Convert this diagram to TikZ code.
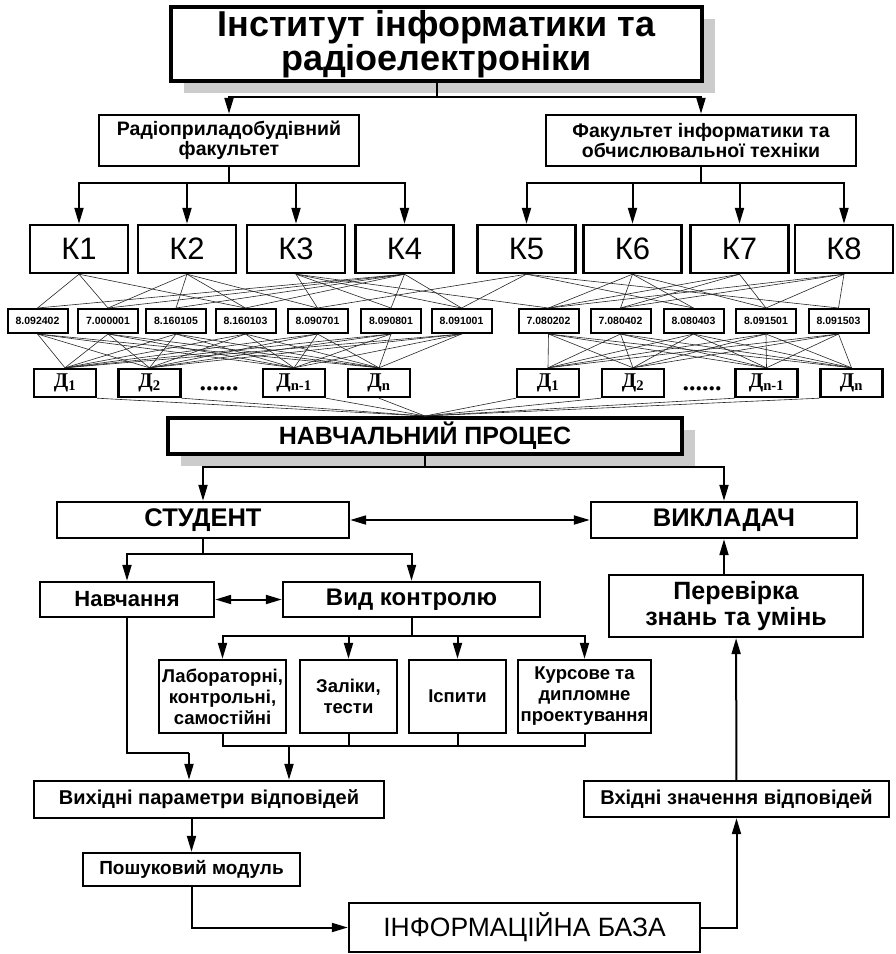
\documentclass[tikz,border=0pt]{standalone}
\usepackage{fontspec}
\setmainfont{Liberation Sans}
\newfontfamily\dfont{Liberation Serif}
\usetikzlibrary{arrows.meta,shadows}

\tikzset{
  box/.style={draw, line width=2.4pt, fill=white, inner sep=0pt, align=center,
    font=\bfseries\fontsize{20}{22}\selectfont},
  bigbox/.style={box, line width=4pt,
    drop shadow={shadow xshift=13pt, shadow yshift=-12pt, fill=black!20, opacity=1}},
  kbox/.style={box, minimum width=98pt, minimum height=48pt,
    font=\fontsize{31}{31}\selectfont},
  codebox/.style={box, line width=2pt, minimum width=60pt, minimum height=24pt,
    font=\bfseries\fontsize{10.5}{11}\selectfont},
  dbox/.style={box, minimum width=62pt, minimum height=28pt,
    font=\dfont\bfseries\fontsize{21}{21}\selectfont},
  dots/.style={font=\dfont\bfseries\fontsize{26}{26}\selectfont},
  ctrlbox/.style={box, minimum height=73pt,
    font=\bfseries\fontsize{18.5}{21}\selectfont},
  wire/.style={line width=2pt},
  arr/.style={line width=2pt, -{Triangle[length=16pt,width=9pt]}},
  dblarr/.style={line width=2pt, {Triangle[length=16pt,width=9pt]}-{Triangle[length=16pt,width=9pt]}},
  link/.style={line width=0.6pt, black!85}
}

\begin{document}
\begin{tikzpicture}[x=1pt,y=-1pt]
  \useasboundingbox (0,0) rectangle (896,954);

  % institute and faculties
  \draw
    (436.5,44) node[bigbox, minimum width=531pt, minimum height=74pt,
      font=\bfseries\fontsize{36}{31}\selectfont] (inst)
      {Інститут інформатики та\\радіоелектроніки}
    (229,140.5) node[box, minimum width=260pt, minimum height=51pt,
      font=\bfseries\fontsize{19.5}{20}\selectfont] (rad)
      {Радіоприладобудівний\\факультет}
    (701,140.5) node[box, minimum width=310pt, minimum height=51pt,
      font=\bfseries\fontsize{19.5}{20}\selectfont] (fac)
      {Факультет інформатики та\\обчислювальної техніки};

  % departments
  \draw
    (79,249) node[kbox] (k1) {К1}
    (187,249) node[kbox] (k2) {К2}
    (296,249) node[kbox] (k3) {К3}
    (404.5,249) node[kbox] (k4) {К4}
    (526.5,249) node[kbox] (k5) {К5}
    (632.5,249) node[kbox] (k6) {К6}
    (739.5,249) node[kbox] (k7) {К7}
    (844,249) node[kbox] (k8) {К8};

  % specialities
  \draw
    (37.5,321) node[codebox] (c1) {8.092402}
    (108,321) node[codebox] (c2) {7.000001}
    (176,321) node[codebox] (c3) {8.160105}
    (245.5,321) node[codebox] (c4) {8.160103}
    (317.5,321) node[codebox] (c5) {8.090701}
    (391,321) node[codebox] (c6) {8.090801}
    (461.5,321) node[codebox] (c7) {8.091001}
    (548.5,321) node[codebox] (r1) {7.080202}
    (620.5,321) node[codebox] (r2) {7.080402}
    (693.5,321) node[codebox] (r3) {8.080403}
    (766,321) node[codebox] (r4) {8.091501}
    (838.5,321) node[codebox] (r5) {8.091503};

  % disciplines
  \draw
    (65,383) node[dbox] (dl1) {Д\textsubscript{1}}
    (149.5,383) node[dbox] (dl2) {Д\textsubscript{2}}
    (219,389) node[dots] (dotl) {......}
    (294,383) node[dbox] (dl3) {Д\textsubscript{n-1}}
    (379,383) node[dbox] (dl4) {Д\textsubscript{n}}
    (548,383) node[dbox] (dr1) {Д\textsubscript{1}}
    (633,383) node[dbox] (dr2) {Д\textsubscript{2}}
    (702,389) node[dots] (dotr) {......}
    (766.5,383) node[dbox] (dr3) {Д\textsubscript{n-1}}
    (851.5,383) node[dbox] (dr4) {Д\textsubscript{n}};

  % teaching process and below
  \draw
    (425,436) node[bigbox, minimum width=514pt, minimum height=36pt,
      font=\bfseries\fontsize{25}{25}\selectfont] (proc) {НАВЧАЛЬНИЙ ПРОЦЕС}
    (203,520) node[box, minimum width=292pt, minimum height=36pt,
      font=\bfseries\fontsize{25.5}{25}\selectfont] (stud) {СТУДЕНТ}
    (724,520) node[box, minimum width=266pt, minimum height=36pt,
      font=\bfseries\fontsize{25.5}{25}\selectfont] (vykl) {ВИКЛАДАЧ}
    (127,599.5) node[box, minimum width=174pt, minimum height=35pt,
      font=\bfseries\fontsize{22}{22}\selectfont] (navch) {Навчання}
    (411.5,599.5) node[box, minimum width=257pt, minimum height=35pt,
      font=\bfseries\fontsize{24}{24}\selectfont] (vyd) {Вид контролю}
    (736,606) node[box, minimum width=254pt, minimum height=62pt,
      font=\bfseries\fontsize{25}{26}\selectfont] (perev) {Перевірка\\знань та умінь}
    (222.5,696.5) node[ctrlbox, minimum width=127pt] (lab) {Лабораторні,\\контрольні,\\самостійні}
    (348.5,696.5) node[ctrlbox, minimum width=97pt] (zal) {Заліки,\\тести}
    (457.5,696.5) node[ctrlbox, minimum width=97pt] (isp) {Іспити}
    (584.5,696.5) node[ctrlbox, minimum width=133pt] (kurs) {Курсове та\\дипломне\\проектування}
    (209,799.5) node[box, minimum width=350pt, minimum height=37pt] (vykh) {Вихідні параметри відповідей}
    (736.5,799) node[box, minimum width=305pt, minimum height=36pt] (vkh) {Вхідні значення відповідей}
    (191.5,869.5) node[box, minimum width=217pt, minimum height=33pt,
      font=\bfseries\fontsize{19}{19}\selectfont] (posh) {Пошуковий модуль}
    (524.5,927.5) node[box, minimum width=351pt, minimum height=49pt,
      font=\fontsize{26.5}{26}\selectfont] (baza) {ІНФОРМАЦІЙНА БАЗА};

  % junctions
  \coordinate (tj) at (436.5,97);
  \coordinate (rj) at (229,183);
  \coordinate (fj) at (701,183);
  \coordinate (pj) at (425,467);
  \coordinate (sj) at (203,554);
  \coordinate (vj) at (411.5,636);
  \coordinate (bus) at (289,746);
  \coordinate (nj) at (189,753);

  \draw[wire] (inst) -- (tj);
  \draw[arr] (tj) -| (rad);
  \draw[arr] (tj) -| (fac);
  \draw[wire] (rad) -- (rj);
  \draw[wire] (fac) -- (fj);
  \draw[arr] (rj) -| (k1);
  \draw[arr] (rj) -| (k2);
  \draw[arr] (rj) -| (k3);
  \draw[arr] (rj) -| (k4);
  \draw[arr] (fj) -| (k5);
  \draw[arr] (fj) -| (k6);
  \draw[arr] (fj) -| (k7);
  \draw[arr] (fj) -| (k8);

  % departments to specialities
  \begin{scope}[link]
    \draw (k1.south) to (c1.north);
    \draw (k1.south) to (c2.north);
    \draw (k1.south) to (c4.north);
    \draw (k2.south) to (c2.north);
    \draw (k2.south) to (c3.north);
    \draw (k2.south) to (c4.north);
    \draw (k2.south) to (c5.north);
    \draw (k3.south) to (c5.north);
    \draw (k3.south) to (c6.north);
    \draw (k3.south) to (c7.north);
    \draw (k3.south) to (r1.north);
    \draw (k4.south) to (c1.north);
    \draw (k4.south) to (c2.north);
    \draw (k4.south) to (c3.north);
    \draw (k4.south) to (c4.north);
    \draw (k4.south) to (c6.north);
    \draw (k4.south) to (c7.north);
    \draw (k5.south) to (c5.north);
    \draw (k5.south) to (c7.north);
    \draw (k5.south) to (r3.north);
    \draw (k5.south) to (r5.north);
    \draw (k6.south) to (r1.north);
    \draw (k6.south) to (r2.north);
    \draw (k6.south) to (r3.north);
    \draw (k6.south) to (r4.north);
    \draw (k7.south) to (r1.north);
    \draw (k7.south) to (r2.north);
    \draw (k7.south) to (r4.north);
    \draw (k8.south) to (r1.north);
    \draw (k8.south) to (r2.north);
    \draw (k8.south) to (r4.north);
    \draw (k8.south) to (r5.north);
  \end{scope}

  % specialities to disciplines
  \begin{scope}[link]
    \foreach \c in {c1,c2,c3,c4,c5,c6,c7}
      \foreach \d in {dl1,dl2,dl3,dl4}
        \draw (\c.south) to (\d.north);
    \foreach \c in {r1,r2,r3,r4,r5}
      \foreach \d in {dr1,dr2,dr3,dr4}
        \draw (\c.south) to (\d.north);
    \draw (dl1.south east) to (proc.north);
    \draw (dl2.south east) to (proc.north);
    \draw (dl3.south east) to (proc.north);
    \draw (dl4.south) to (proc.north);
    \draw (dr1.south west) to (proc.north);
    \draw (dr2.south west) to (proc.north);
    \draw (dr3.south west) to (proc.north);
    \draw (dr4.south west) to (proc.north);
  \end{scope}

  \draw[wire] (proc) -- (pj);
  \draw[arr] (pj) -| (stud);
  \draw[arr] (pj) -| (vykl);
  \draw[dblarr] (stud) -- (vykl);
  \draw[wire] (stud) -- (sj);
  \draw[arr] (sj) -| (navch);
  \draw[arr] (sj) -| (vyd);
  \draw[dblarr] (navch) -- (vyd);
  \draw[arr] (perev.north -| vykl.south) -- (vykl.south);
  \draw[wire] (vyd) -- (vj);
  \draw[arr] (vj) -| (lab);
  \draw[arr] (vj) -| (zal);
  \draw[arr] (vj) -| (isp);
  \draw[arr] (vj) -| (kurs);
  \draw[wire] (lab.south) |- (bus) -| (kurs.south);
  \draw[wire] (zal.south) -- (zal.south |- bus);
  \draw[wire] (isp.south) -- (isp.south |- bus);
  \draw[arr] (bus) -- (bus |- vykh.north);
  \draw[wire] (navch.south) |- (nj);
  \draw[arr] (nj) -- (nj |- vykh.north);
  \draw[arr] (vykh.south -| posh) -- (posh);
  \draw[arr] (posh) |- (baza);
  \draw[arr] (baza) -| (vkh);
  \draw[arr] (vkh) -- (perev);
\end{tikzpicture}
\end{document}
